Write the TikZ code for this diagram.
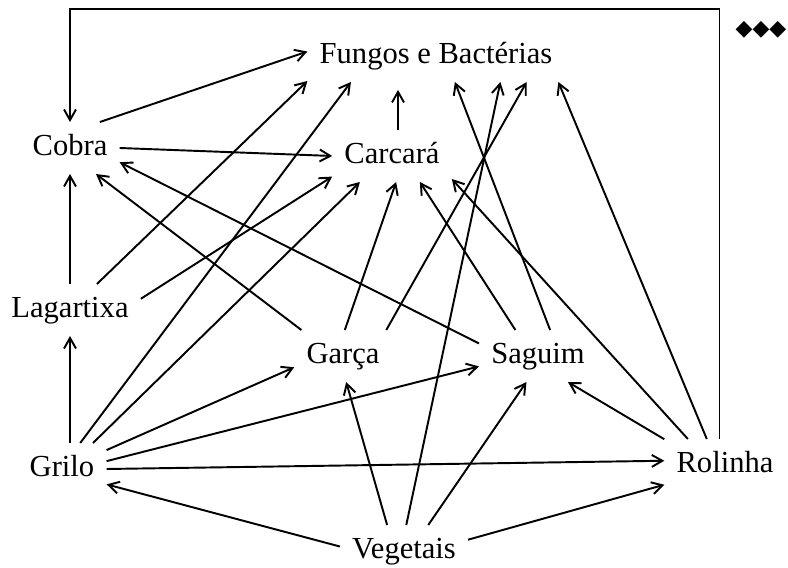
\documentclass[tikz,border=0pt]{standalone}
\usepackage{fontspec}
\setmainfont{Liberation Serif}
\newfontfamily\dejavu{DejaVu Sans}
\usetikzlibrary{arrows.meta}
\tikzset{
  species/.style={inner sep=6.8pt, text height=11.9pt, text depth=3.7pt, font=\fontsize{17.4}{20}\selectfont},
  flow/.style={-{Straight Barb[length=6pt,width=6.8pt]}, line width=1.1pt},
  dots/.style={inner sep=0pt, font=\dejavu\fontsize{12.5}{14}\selectfont}
}

\begin{document}
\begin{tikzpicture}[x=0.02cm,y=0.02cm]
  \useasboundingbox (0,0) rectangle (788,568);

  \node[species] (fungos) at (436,512) {Fungos e Bactérias};
  \node[species] (cobra) at (70,420) {Cobra};
  \node[species] (carcara) at (392,412) {Carcará};
  \node[species] (lagartixa) at (70,258) {Lagartixa};
  \node[species] (garca) at (343,212) {Garça};
  \node[species] (saguim) at (538,212) {Saguim};
  \node[species] (grilo) at (62,99) {Grilo};
  \node[species] (rolinha) at (725,103) {Rolinha};
  \node[species] (vegetais) at (404,17) {Vegetais};
  \node[dots] (more) at (761,538) {◆◆◆};

  \foreach \a/\b in {cobra.41/fungos.178, lagartixa.44/fungos.191, lagartixa.9/carcara.199,
      garca.148/cobra.315, saguim.168/cobra.344, grilo.55/fungos.197, grilo.40/carcara.219,
      grilo.23/garca.193, grilo.10/saguim.190, grilo.east/rolinha.176, vegetais.176/grilo.341,
      vegetais.10/rolinha.198, vegetais.123/garca.277, vegetais.85/fungos.338, vegetais.47/saguim.246,
      garca.86/carcara.279, garca.31/fungos.344, saguim.131/carcara.317, saguim.65/fungos.306,
      rolinha.125/fungos.348, rolinha.145/carcara.339, rolinha.157/saguim.319} {
    \draw[flow] (\a) -- (\b);
  }

  \draw[flow] (cobra.east) -- (carcara.west);
  \draw[flow, shorten >=4.5pt] (carcara.77) -- (carcara.77 |- fungos.south);
  \draw[flow] (lagartixa) -- (cobra);
  \draw[flow] (lagartixa |- grilo.north) -- (lagartixa.south);
  \draw[flow] (rolinha.102) -- ++(0,430) -| (cobra.north);
\end{tikzpicture}
\end{document}
